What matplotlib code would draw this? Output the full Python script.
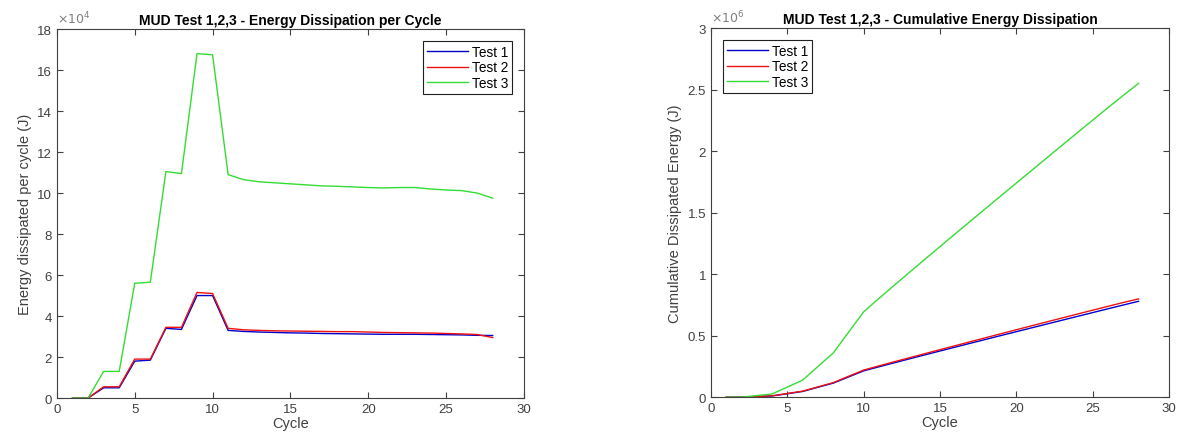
import matplotlib.pyplot as plt
import matplotlib.ticker as mticker
import numpy as np

plt.rcParams['font.family'] = ['Liberation Sans', 'DejaVu Sans']

cycles = np.arange(1, 29)

# energy dissipated per cycle, in units of 1e4 J
test1 = [0, 0, 0.5, 0.5, 1.8, 1.85, 3.4, 3.35, 5.0, 5.0, 3.3, 3.25, 3.22, 3.2,
         3.18, 3.17, 3.15, 3.14, 3.13, 3.12, 3.11, 3.11, 3.11, 3.1, 3.09, 3.08, 3.06, 3.05]
test2 = [0, 0, 0.55, 0.55, 1.9, 1.9, 3.45, 3.45, 5.15, 5.1, 3.4, 3.33, 3.3, 3.28,
         3.27, 3.26, 3.25, 3.24, 3.24, 3.22, 3.2, 3.19, 3.18, 3.17, 3.15, 3.13, 3.1, 2.95]
test3 = [0, 0, 1.3, 1.3, 5.6, 5.65, 11.05, 10.95, 16.8, 16.75, 10.9, 10.65, 10.55, 10.5,
         10.45, 10.4, 10.35, 10.33, 10.3, 10.27, 10.25, 10.27, 10.27, 10.2, 10.15, 10.12, 10.0, 9.75]

labels = ['Test 1', 'Test 2', 'Test 3']
colors = ['#0000cc', '#ee1111', '#33dd33']
gray = '#404040'

fig = plt.figure(figsize=(11.94, 4.39), dpi=100)
ax1 = fig.add_axes([0.0477, 0.091, 0.391, 0.8405])
ax2 = fig.add_axes([0.5955, 0.093, 0.3836, 0.8405])

for s, lab, c in zip([test1, test2, test3], labels, colors):
    s = np.array(s)
    ax1.plot(cycles, s, color=c, lw=1, label=lab)
    # cumulative in units of 1e6 J
    ax2.plot(cycles, np.cumsum(s) / 100, color=c, lw=1, label=lab)

ax1.set_ylim(0, 18)
ax1.set_yticks(np.arange(0, 18.1, 2))
ax2.set_ylim(0, 3)
ax2.set_yticks(np.arange(0, 3.01, 0.5))

for ax, expo in ((ax1, 4), (ax2, 6)):
    ax.set_xlim(0, 30)
    ax.set_xticks(range(0, 31, 5))
    ax.yaxis.set_major_formatter(mticker.FormatStrFormatter('%g'))
    ax.tick_params(direction='in', top=True, right=True, labelsize=9.5,
                   colors=gray, length=4, width=0.8)
    for sp in ax.spines.values():
        sp.set_color(gray)
        sp.set_linewidth(0.8)
    ax.set_xlabel('Cycle', fontsize=10.5, color=gray, labelpad=1)
    ax.text(0.0, 1.008, r'$\times10^{%d}$' % expo, transform=ax.transAxes,
            fontsize=9, color='#808080', ha='left', va='bottom')

ax1.set_ylabel('Energy dissipated per cycle (J)', fontsize=10.5, color=gray)
ax2.set_ylabel('Cumulative Dissipated Energy (J)', fontsize=10.5, color=gray)
ax1.set_title('MUD Test 1,2,3 - Energy Dissipation per Cycle', fontsize=10, fontweight='bold', pad=4)
ax2.set_title('MUD Test 1,2,3 - Cumulative Energy Dissipation', fontsize=10, fontweight='bold', pad=4)

for ax, loc in ((ax1, 'upper right'), (ax2, 'upper left')):
    leg = ax.legend(loc=loc, fontsize=9.8, handlelength=3.0, fancybox=False,
                    framealpha=1, edgecolor='#202020', borderpad=0.3,
                    labelspacing=0.12, handletextpad=0.3, borderaxespad=0.85)
    leg.get_frame().set_linewidth(0.8)

fig.savefig('out.png', dpi=100)
